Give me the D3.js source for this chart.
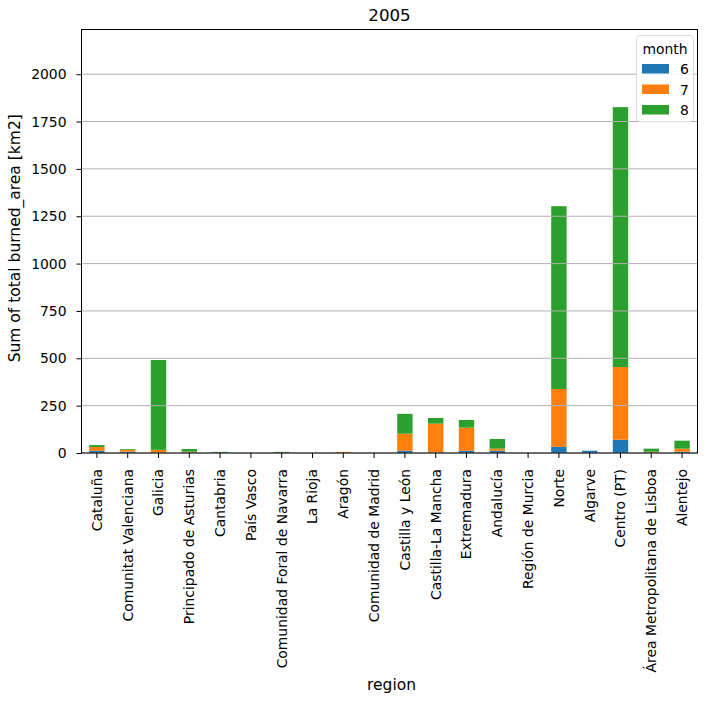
<!DOCTYPE html>
<html><head><meta charset="utf-8">
<script src="https://cdn.jsdelivr.net/npm/d3@7"></script>
<style>body{margin:0;background:#fff;} svg text{font-family:"DejaVu Sans";fill:#000;}</style>
</head><body><svg id="c" width="711" height="702"></svg>
<script>
const regions = ["Cataluña","Comunitat Valenciana","Galicia","Principado de Asturias","Cantabria","País Vasco","Comunidad Foral de Navarra","La Rioja","Aragón","Comunidad de Madrid","Castilla y León","Castilla-La Mancha","Extremadura","Andalucía","Región de Murcia","Norte","Algarve","Centro (PT)","Área Metropolitana de Lisboa","Alentejo"];
const months = ["6","7","8"];
const m6 = [12,7,0,1,0,0,0,0,0,0,12,1,12,12,0,33,12,70,2,7];
const m7 = [20,10,17,6,0,0,0,0,6,0,90,154,122,11,0,305,0,384,5,16];
const m8 = [10,4,474,14,6,0,6,0,0,0,105,30,40,51,0,965,0,1372,16,42];
const yTicks = [0,250,500,750,1000,1250,1500,1750,2000];
const colors = ["#1f77b4","#ff7f0e","#2ca02c"];

const svg = d3.select("#c");
const L = 81.5, R = 697.5, T = 29.5, B = 453;
const data = regions.map((r,i)=>({region:r, "6":m6[i], "7":m7[i], "8":m8[i]}));
const x = d3.scaleBand().domain(regions).range([L,R]).paddingInner(0.5).paddingOuter(0.25);
const y = d3.scaleLinear().domain([0,2236]).range([B,T]);
const stack = d3.stack().keys(months)(data);

svg.append("g").selectAll("g").data(stack).join("g").attr("fill",(d,i)=>colors[i])
  .selectAll("rect").data(d=>d).join("rect")
  .attr("x",d=>x(d.data.region)).attr("width",x.bandwidth())
  .attr("y",d=>y(d[1])).attr("height",d=>y(d[0])-y(d[1]));

// grid
svg.append("g").selectAll("line").data(yTicks).join("line")
  .attr("x1",L).attr("x2",R).attr("y1",d=>y(d)).attr("y2",d=>y(d))
  .attr("stroke","#b0b0b0").attr("stroke-width",1);

// frame
svg.append("rect").attr("x",L).attr("y",T).attr("width",R-L).attr("height",B-T)
  .attr("fill","none").attr("stroke","#000").attr("stroke-width",1);

const fs = "13.9px";
const ya = svg.append("g").attr("transform",`translate(${L},0)`)
  .call(d3.axisLeft(y).tickValues(yTicks).tickSize(5).tickPadding(10).tickFormat(d3.format("d")));
ya.select(".domain").remove();
ya.selectAll("text").attr("font-size",fs);
ya.selectAll("line").attr("stroke","#000");

const xa = svg.append("g").attr("transform",`translate(0,${B})`)
  .call(d3.axisBottom(x).tickSize(5).tickPadding(5));
xa.select(".domain").remove();
xa.selectAll("line").attr("stroke","#000");
xa.selectAll("text").attr("font-size",fs)
  .attr("transform","rotate(-90)").attr("text-anchor","end").attr("x",-16).attr("y",0).attr("dy","0.35em");

svg.append("text").attr("x",(L+R)/2).attr("y",21).attr("text-anchor","middle")
  .attr("font-size","16.7px").text("2005");
svg.append("text").attr("x",(L+R)/2+2).attr("y",690).attr("text-anchor","middle")
  .attr("font-size","15.5px").text("region");
svg.append("text").attr("transform",`translate(20,${(T+B)/2-3}) rotate(-90)`).attr("text-anchor","middle")
  .attr("font-size","15.5px").text("Sum of total burned_area [km2]");

// legend
const lg = svg.append("g");
lg.append("rect").attr("x",636.5).attr("y",35.5).attr("width",57).attr("height",86).attr("rx",3)
  .attr("fill","#fff").attr("fill-opacity",0.8).attr("stroke","#d9d9d9");
lg.append("text").attr("x",665).attr("y",54).attr("text-anchor","middle").attr("font-size",fs).text("month");
months.forEach((m,i)=>{
  lg.append("rect").attr("x",642).attr("y",64+i*20.5).attr("width",27).attr("height",9.5).attr("fill",colors[i]);
  lg.append("text").attr("x",680).attr("y",74+i*20.5).attr("font-size",fs).text(m);
});
</script>
</body></html>
